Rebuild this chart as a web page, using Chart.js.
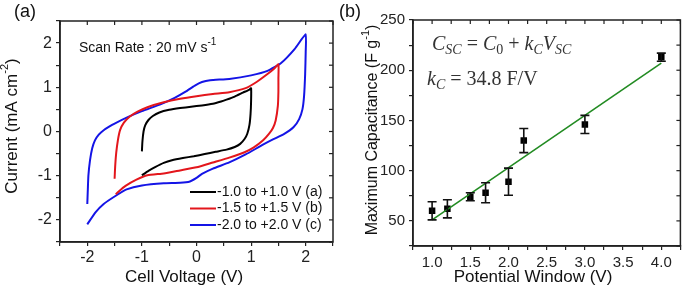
<!DOCTYPE html>
<html>
<head>
<meta charset="utf-8">
<script src="https://cdn.jsdelivr.net/npm/chart.js@4.4.0/dist/chart.umd.min.js"></script>
<style>
    body { margin: 0; background: #fff; width: 685px; height: 296px; position: relative; overflow: hidden; }
    #wrap-cv { position: absolute; left: 0; top: 0; width: 335px; height: 296px; }
    #wrap-cap { position: absolute; left: 335px; top: 0; width: 350px; height: 296px; }
</style>
</head>
<body>
<div id="wrap-cv"><canvas id="chart-cv" width="335" height="296"></canvas></div>
<div id="wrap-cap"><canvas id="chart-cap" width="350" height="296"></canvas></div>
<script>
// ---- data panel (a): CV loops ----
const cvLabels = ["-1.0 to +1.0 V (a)", "-1.5 to +1.5 V (b)", "-2.0 to +2.0 V (c)"];

const cvVoltA = [-1.0, -0.99, -0.97, -0.94, -0.88, -0.8, -0.68, -0.5, -0.3, -0.1, 0.1, 0.3, 0.45, 0.55, 0.7, 0.85, 0.97, 1.0,
    1.0, 0.99, 0.97, 0.93, 0.88, 0.8, 0.7, 0.55, 0.35, 0.15, -0.05, -0.25, -0.45, -0.6, -0.75, -0.88, -1.0];
const cvCurrentA = [-0.45, -0.22, 0.0, 0.14, 0.26, 0.35, 0.43, 0.49, 0.53, 0.56, 0.59, 0.63, 0.68, 0.72, 0.79, 0.88, 0.95, 0.98,
    0.7, 0.4, 0.15, -0.05, -0.17, -0.28, -0.35, -0.41, -0.46, -0.51, -0.56, -0.6, -0.65, -0.71, -0.8, -0.89, -0.99];

const cvVoltB = [-1.5, -1.49, -1.47, -1.44, -1.4, -1.33, -1.22, -1.08, -0.9, -0.6, -0.3, 0.0, 0.3, 0.6, 0.9, 1.1, 1.3, 1.42, 1.5,
    1.5, 1.5, 1.49, 1.45, 1.4, 1.33, 1.22, 1.05, 0.88, 0.6, 0.3, 0.0, -0.3, -0.6, -0.9, -1.1, -1.3, -1.42, -1.48];
const cvCurrentB = [-1.07, -0.8, -0.48, -0.2, 0.03, 0.2, 0.34, 0.45, 0.55, 0.66, 0.74, 0.8, 0.85, 0.89, 0.98, 1.12, 1.3, 1.42, 1.52,
    1.2, 0.9, 0.58, 0.25, 0.08, -0.05, -0.2, -0.36, -0.47, -0.59, -0.7, -0.81, -0.88, -0.95, -0.99, -1.09, -1.23, -1.35, -1.42];

const cvVoltC = [-2.0, -1.99, -1.98, -1.95, -1.91, -1.86, -1.79, -1.7, -1.6, -1.5, -1.25, -1.0, -0.65, -0.4, -0.2, -0.03, 0.1, 0.25, 0.6, 1.0, 1.3, 1.55, 1.8, 2.0,
    2.0, 1.99, 1.97, 1.94, 1.88, 1.78, 1.6, 1.4, 1.2, 0.9, 0.6, 0.3, 0.1, 0.0, -0.12, -0.3, -0.6, -1.0, -1.28, -1.5, -1.7, -1.85, -2.0];
const cvCurrentC = [-1.64, -1.3, -1.0, -0.65, -0.38, -0.2, -0.07, 0.03, 0.11, 0.18, 0.33, 0.46, 0.62, 0.76, 0.9, 1.04, 1.12, 1.16, 1.19, 1.27, 1.37, 1.55, 1.87, 2.2,
    1.8, 1.3, 0.8, 0.5, 0.28, 0.1, -0.06, -0.18, -0.31, -0.52, -0.7, -0.84, -0.96, -1.05, -1.13, -1.16, -1.17, -1.22, -1.31, -1.47, -1.64, -1.83, -2.1];

// ---- data panel (b): capacitance vs window ----
const windowV = [1.0, 1.2, 1.5, 1.7, 2.0, 2.2, 3.0, 4.0];
const capMax = [60, 62, 74, 78, 89, 130, 146, 213];
const capErr = [9, 9, 4, 10, 13.5, 12, 9, 4];
const fitV = [1.0, 4.0];
const fitCap = [51, 207];

const SANS = (s) => `${s}px "Liberation Sans", Arial, sans-serif`;
const SERIF = (s, it) => `${it ? "italic " : ""}${s}px "Liberation Serif", "Times New Roman", serif`;
const toXY = (xs, ys) => xs.map((x, i) => ({ x: x, y: ys[i] }));

function richWidth(ctx, parts) {
    let w = 0;
    parts.forEach((p) => { ctx.font = p.font; w += ctx.measureText(p.t).width; });
    return w;
}
function drawRich(ctx, x, y, parts) {
    parts.forEach((p) => {
        ctx.font = p.font;
        ctx.fillText(p.t, x, y + (p.dy || 0));
        x += ctx.measureText(p.t).width;
    });
}

// frame + inward ticks on top and right
const framePlugin = {
    id: "frame",
    afterDraw(chart) {
        const { ctx, chartArea: a, scales } = chart;
        ctx.save();
        ctx.strokeStyle = "#222";
        ctx.lineWidth = 1.5;
        ctx.strokeRect(a.left, a.top, a.right - a.left, a.bottom - a.top);
        ctx.lineWidth = 1.2;
        scales.x.ticks.forEach((t) => {
            const px = scales.x.getPixelForValue(t.value);
            ctx.beginPath(); ctx.moveTo(px, a.top); ctx.lineTo(px, a.top + 4); ctx.stroke();
        });
        scales.y.ticks.forEach((t) => {
            const py = scales.y.getPixelForValue(t.value);
            ctx.beginPath(); ctx.moveTo(a.right, py); ctx.lineTo(a.right - 4, py); ctx.stroke();
        });
        ctx.restore();
    },
};

function axisOpts(min, max, step, fit, fmt, size, pad) {
    return {
        type: "linear", min: min, max: max,
        ticks: { stepSize: step, autoSkip: false, maxRotation: 0, color: "#222", font: { size: size, family: '"Liberation Sans", Arial, sans-serif' }, padding: pad, callback: fmt },
        grid: { drawOnChartArea: false, drawTicks: true, tickLength: 4, color: "#222", lineWidth: 1.2 },
        border: { display: true, color: "#222", width: 1.5 },
        afterFit: fit,
    };
}

// ---- panel (a) ----
const cvDecor = {
    id: "cvDecor",
    afterDraw(chart) {
        const ctx = chart.ctx;
        ctx.save();
        ctx.fillStyle = "#111";
        ctx.textAlign = "left";
        ctx.textBaseline = "middle";
        ctx.font = SANS(18);
        ctx.fillText("(a)", 14, 12);
        drawRich(ctx, 79, 48, [{ t: "Scan Rate : 20 mV s", font: SANS(14) }, { t: "-1", font: SANS(10), dy: -6 }]);
        chart.data.datasets.forEach((ds, i) => {
            const y = 192 + i * 16.5;
            ctx.strokeStyle = ds.borderColor;
            ctx.lineWidth = 2;
            ctx.beginPath(); ctx.moveTo(190, y); ctx.lineTo(216, y); ctx.stroke();
            ctx.font = SANS(14);
            ctx.fillText(ds.label, 217, y);
        });
        ctx.textAlign = "center";
        ctx.font = SANS(17);
        ctx.fillText("Cell Voltage (V)", 184, 277);
        const yt = [{ t: "Current (mA cm", font: SANS(17) }, { t: "-2", font: SANS(11), dy: -7 }, { t: ")", font: SANS(17) }];
        ctx.textAlign = "left";
        ctx.translate(12, 126);
        ctx.rotate(-Math.PI / 2);
        drawRich(ctx, -richWidth(ctx, yt) / 2, 0, yt);
        ctx.restore();
    },
};

const intLabel = (v) => (Math.abs(v - Math.round(v)) < 1e-6 ? String(Math.round(v)) : "");
const cvColors = ["#000000", "#e3161c", "#1414e6"];
const cvSets = [toXY(cvVoltA, cvCurrentA), toXY(cvVoltB, cvCurrentB), toXY(cvVoltC, cvCurrentC)];

new Chart(document.getElementById("chart-cv"), {
    type: "scatter",
    data: {
        datasets: cvSets.map((pts, i) => ({
            label: cvLabels[i], data: pts, showLine: true, pointRadius: 0,
            borderColor: cvColors[i], borderWidth: 2, tension: 0.15,
        })),
    },
    options: {
        responsive: false, animation: false,
        layout: { padding: { left: 0, right: 2, top: 21, bottom: 0 } },
        plugins: { legend: { display: false }, tooltip: { enabled: false } },
        scales: {
            x: axisOpts(-2.5, 2.5, 0.5, (s) => { s.height = 54; }, intLabel, 16, 2),
            y: axisOpts(-2.5, 2.5, 0.5, (s) => { s.width = 60; }, intLabel, 16, 4),
        },
    },
    plugins: [framePlugin, cvDecor],
});

// ---- panel (b) ----
const errPlugin = {
    id: "errBars",
    afterDatasetsDraw(chart) {
        const { ctx, scales } = chart;
        ctx.save();
        ctx.strokeStyle = "#111";
        ctx.lineWidth = 1.6;
        windowV.forEach((v, i) => {
            const px = scales.x.getPixelForValue(v);
            const top = scales.y.getPixelForValue(capMax[i] + capErr[i]);
            const bot = scales.y.getPixelForValue(capMax[i] - capErr[i]);
            ctx.beginPath();
            ctx.moveTo(px, top); ctx.lineTo(px, bot);
            ctx.moveTo(px - 4.5, top); ctx.lineTo(px + 4.5, top);
            ctx.moveTo(px - 4.5, bot); ctx.lineTo(px + 4.5, bot);
            ctx.stroke();
        });
        ctx.restore();
    },
};

const capDecor = {
    id: "capDecor",
    afterDraw(chart) {
        const ctx = chart.ctx;
        ctx.save();
        ctx.fillStyle = "#111";
        ctx.textAlign = "left";
        ctx.textBaseline = "middle";
        ctx.font = SANS(18);
        ctx.fillText("(b)", 4, 12);
        ctx.textAlign = "center";
        ctx.font = SANS(17);
        ctx.fillText("Potential Window (V)", 198, 277);
        ctx.textAlign = "left";
        // formula
        ctx.fillStyle = "#333";
        ctx.textBaseline = "alphabetic";
        drawRich(ctx, 97, 50, [
            { t: "C", font: SERIF(20, true) }, { t: "SC", font: SERIF(14, true), dy: 4 },
            { t: " = ", font: SERIF(20) }, { t: "C", font: SERIF(20, true) }, { t: "0", font: SERIF(14), dy: 4 },
            { t: " + ", font: SERIF(20) }, { t: "k", font: SERIF(20, true) }, { t: "C", font: SERIF(14, true), dy: 4 },
            { t: "V", font: SERIF(20, true) }, { t: "SC", font: SERIF(14, true), dy: 4 },
        ]);
        drawRich(ctx, 92, 85, [
            { t: "k", font: SERIF(20, true) }, { t: "C", font: SERIF(14, true), dy: 4 },
            { t: " = 34.8 F/V", font: SERIF(20) },
        ]);
        // y title
        ctx.fillStyle = "#111";
        ctx.textBaseline = "middle";
        const yt = [{ t: "Maximum Capacitance (F g", font: SANS(16) }, { t: "-1", font: SANS(11), dy: -7 }, { t: ")", font: SANS(16) }];
        ctx.translate(38, 130);
        ctx.rotate(-Math.PI / 2);
        drawRich(ctx, -richWidth(ctx, yt) / 2, 0, yt);
        ctx.restore();
    },
};

new Chart(document.getElementById("chart-cap"), {
    type: "scatter",
    data: {
        datasets: [
            {
                label: "fit", data: toXY(fitV, fitCap), showLine: true, pointRadius: 0,
                borderColor: "#228b22", borderWidth: 1.6,
            },
            {
                label: "Maximum Capacitance", data: toXY(windowV, capMax), showLine: false,
                pointStyle: "rect", pointRadius: 4.6, backgroundColor: "#000", borderColor: "#000", borderWidth: 0,
            },
        ],
    },
    options: {
        responsive: false, animation: false,
        layout: { padding: { left: 0, right: 2, top: 20, bottom: 0 } },
        plugins: { legend: { display: false }, tooltip: { enabled: false } },
        scales: {
            x: axisOpts(0.75, 4.25, 0.25, (s) => { s.height = 50; },
                (v) => (Math.abs(v * 2 - Math.round(v * 2)) < 1e-6 ? v.toFixed(1) : ""), 15, 4),
            y: axisOpts(25, 250, 25, (s) => { s.width = 78; },
                (v) => (v % 50 === 0 ? String(v) : ""), 15, 4),
        },
    },
    plugins: [framePlugin, errPlugin, capDecor],
});
</script>
</body>
</html>
